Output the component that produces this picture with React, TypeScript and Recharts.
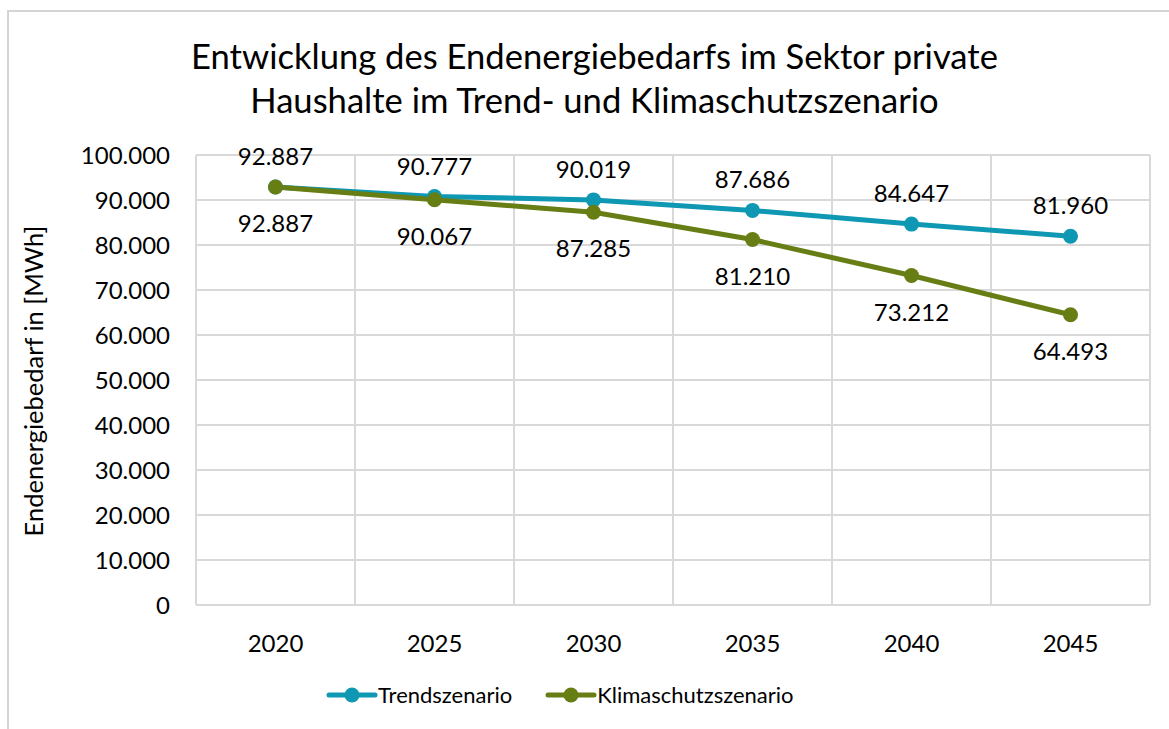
import React from 'react';
import { LineChart, Line, XAxis, YAxis, CartesianGrid, ReferenceLine, LabelList } from 'recharts';

const years = ['2020', '2025', '2030', '2035', '2040', '2045'];
const trend = [92887, 90777, 90019, 87686, 84647, 81960];
const klima = [92887, 90067, 87285, 81210, 73212, 64493];
const yTicks = [0, 10000, 20000, 30000, 40000, 50000, 60000, 70000, 80000, 90000, 100000];
const boundaries = [0, 1, 2, 3, 4, 5, 6];
const seriesNames = ['Trendszenario', 'Klimaschutzszenario'];

const TEAL = '#0e98b3';
const OLIVE = '#667e13';
const FONT = 'Lato, "Noto Sans", sans-serif';
const NUM = 24;

const data = years.map((y, i) => ({ x: i + 0.5, year: y, trend: trend[i], klima: klima[i] }));

const fmt = (v: number) => {
  const s = Math.round(v).toString();
  return s.replace(/\B(?=(\d{3})+(?!\d))/g, '.');
};

const LegendBox = () => (
  <div style={{ position: 'absolute', left: 326, top: 681, display: 'flex', alignItems: 'center', fontFamily: FONT, fontSize: 22, color: '#000', whiteSpace: 'nowrap' }}>
    {[TEAL, OLIVE].map((c, i) => (
      <div key={i} style={{ display: 'flex', alignItems: 'center', marginLeft: i ? 33 : 0 }}>
        <svg width={52} height={26}>
          <line x1={3} y1={13} x2={49} y2={13} stroke={c} strokeWidth={5} strokeLinecap="round" />
          <circle cx={26} cy={13} r={7.5} fill={c} />
        </svg>
        <span style={{ marginLeft: 0 }}>{seriesNames[i]}</span>
      </div>
    ))}
  </div>
);

export default function App() {
  return (
    <div style={{ position: 'absolute', left: 0, top: 0, width: 1169, height: 729, overflow: 'hidden', background: '#fff' }}>
      <div style={{ position: 'absolute', left: 7, top: 10, width: 1200, height: 800, border: '2px solid #d4d4d4', boxSizing: 'border-box' }} />
      <div style={{ position: 'absolute', left: 0, top: 34, width: 1189, textAlign: 'center', fontFamily: FONT, fontSize: 34.6, lineHeight: '44px', color: '#000' }}>
        Entwicklung des Endenergiebedarfs im Sektor private<br />Haushalte im Trend- und Klimaschutzszenario
      </div>
      <div style={{ position: 'absolute', left: 0, top: 0 }}>
        <LineChart width={1169} height={729} data={data} margin={{ top: 155, right: 19, bottom: 0, left: 0 }}>
          <CartesianGrid vertical={false} stroke="#d9d9d9" strokeWidth={2} />
          {boundaries.map((b) => (
            <ReferenceLine key={b} x={b} stroke="#d9d9d9" strokeWidth={2} />
          ))}
          <XAxis
            dataKey="x"
            type="number"
            domain={[0, 6]}
            ticks={data.map((d) => d.x)}
            tickFormatter={(v: number) => years[Math.round(v - 0.5)]}
            axisLine={false}
            tickLine={false}
            tickMargin={24}
            height={124}
            tick={{ fill: '#000', fontSize: NUM, fontFamily: FONT }}
          />
          <YAxis
            type="number"
            domain={[0, 100000]}
            ticks={yTicks}
            tickFormatter={fmt}
            axisLine={false}
            tickLine={false}
            width={196}
            tickMargin={20}
            tick={{ fill: '#000', fontSize: NUM, fontFamily: FONT }}
            label={{
              content: () => (
                <text x={33} y={381} transform="rotate(-90 33 381)" textAnchor="middle" dominantBaseline="central" fontSize={25.5} fontFamily={FONT} fill="#000">
                  Endenergiebedarf in [MWh]
                </text>
              ),
            }}
          />
          <Line dataKey="trend" name={seriesNames[0]} stroke={TEAL} strokeWidth={5} dot={{ r: 7.5, fill: TEAL, stroke: TEAL, strokeWidth: 0 }} isAnimationActive={false}>
            <LabelList dataKey="trend" position="top" offset={22} formatter={(v: number) => fmt(v)} style={{ fill: '#000', fontSize: NUM, fontFamily: FONT }} />
          </Line>
          <Line dataKey="klima" name={seriesNames[1]} stroke={OLIVE} strokeWidth={5} dot={{ r: 7.5, fill: OLIVE, stroke: OLIVE, strokeWidth: 0 }} isAnimationActive={false}>
            <LabelList dataKey="klima" position="bottom" offset={28} formatter={(v: number) => fmt(v)} style={{ fill: '#000', fontSize: NUM, fontFamily: FONT }} />
          </Line>
        </LineChart>
      </div>
      <LegendBox />
    </div>
  );
}
